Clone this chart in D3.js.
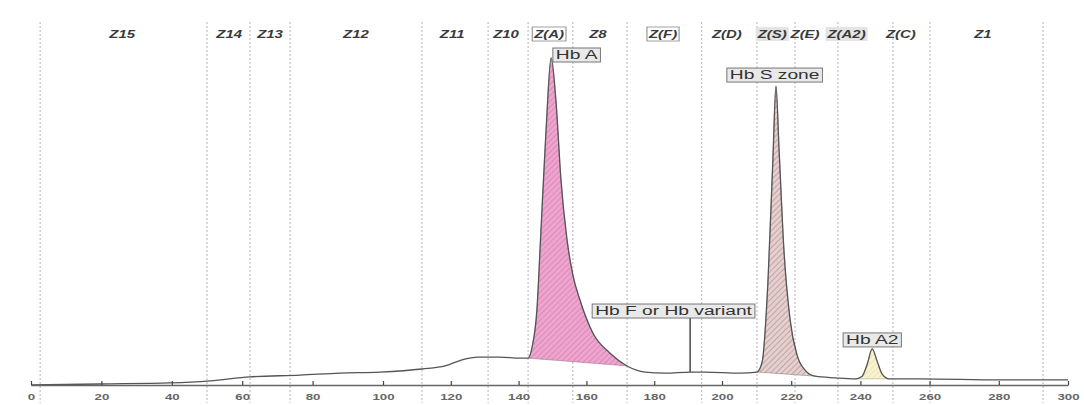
<!DOCTYPE html>
<html>
<head>
<meta charset="utf-8">
<script src="https://cdn.jsdelivr.net/npm/d3@7"></script>
<style>
   html, body { margin: 0; padding: 0; background: #fff; }
   #chart { width: 1084px; height: 405px; }
   text { font-family: "Liberation Sans", Arial, sans-serif; }
</style>
</head>
<body>
<div id="chart"></div>
<script>
// x axis ticks (migration time)
const tickValues = [0, 20, 40, 60, 80, 100, 120, 140, 160, 180, 200, 220, 240, 260, 280, 300];

// zone boundaries and zone names
const zoneBounds = [2.6, 50, 62.2, 73.6, 111.5, 131, 142.8, 156, 172, 194, 210.1, 221.1, 233.5, 249.4, 260.1, 292.8];
const zoneNames = ["Z15", "Z14", "Z13", "Z12", "Z11", "Z10", "Z(A)", "Z8", "Z(F)", "Z(D)", "Z(S)", "Z(E)", "Z(A2)", "Z(C)", "Z1"];
const zoneCenters = [25.9, 56.3, 67.9, 92.3, 120.4, 136.3, 149.0, 163.4, 182.6, 201.4, 214.5, 224.0, 236.0, 251.7, 275.4];
const zoneMarks = ["", "", "", "", "", "", "box", "", "box", "", "shade", "", "shade", "", ""];

// electropherogram trace
const traceX = [0, 19.6, 39.5, 50.9, 62.2, 76.4, 87.8, 99.1, 111.5, 118.3,
   123.3, 128.0, 134.5, 140.4, 142.8, 144.0, 145.4, 146.6, 148.1, 149.6,
   151.0, 152.5, 154.3, 156.0, 158.1, 161.9, 166.9, 172.0, 177.3, 183.2,
   190.6, 195.0, 205.2, 210.1, 211.6, 213.3, 214.7, 215.6, 216.5, 217.9,
   219.7, 221.7, 224.0, 226.9, 232.7, 238.5, 240.5, 242.0, 243.4, 244.9,
   246.3, 248.3, 257.2, 280.3, 300];
const traceY = [0, 0.3, 0.6, 1.2, 2.4, 2.9, 3.5, 3.8, 4.7, 5.6,
   7.4, 8.2, 8.2, 7.9, 7.9, 11.2, 22.1, 45.6, 75.0, 96.2,
   83.8, 60.3, 42.6, 32.4, 25.0, 15.3, 9.4, 5.6, 3.8, 3.5,
   3.8, 3.8, 3.5, 3.8, 6.8, 30.9, 66.2, 87.9, 69.1, 39.7,
   19.1, 8.8, 4.4, 2.6, 2.1, 1.8, 2.6, 6.2, 10.6, 6.8,
   3.2, 1.8, 1.8, 1.5, 1.5];

// integrated peaks
const peakIds = ["hbA", "hbS", "hbA2"];
const peakStart = [142.8, 210.1, 238.5];
const peakEnd = [172.0, 226.9, 248.3];

// peak labels (anchor = box left / bottom)
const labelTexts = ["Hb A", "Hb S zone", "Hb F or Hb variant", "Hb A2"];
const labelX = [150.1, 201.4, 161.7, 235.0];
const labelY = [95.0, 89.1, 19.7, 11.2];
const leaderX = [null, null, 190.6, null];
const leaderTo = [null, null, 3.8, null];

const width = 1084;
const height = 405;
const zoneStretch = 1.3;
const labelStretch = 1.6;

const peakStyle = {
   hbA: { base: "#eca6ce", hatch: "#d872aa", stroke: "#6e4a60" },
   hbS: { base: "#e6cfcf", hatch: "#a88888", stroke: "#5a4848" },
   hbA2: { base: "#f7f3cf", hatch: "#e4dca8", stroke: "#7a7a60" }
};

// Scales (scan is slightly uneven, so x is piecewise)
const x = d3.scaleLinear().domain([0, 100, 200, 300]).range([31, 383, 722, 1068]);
const y = d3.scaleLinear().domain([0, 100]).range([385, 45]);

const trace = traceX.map((d, i) => ({ x: d, y: traceY[i] }));

// Create svg
const svg = d3.select("#chart").append("svg")
   .attr("width", width)
   .attr("height", height);

// Hatch patterns
const defs = svg.append("defs");
peakIds.forEach(id => {
   const p = defs.append("pattern")
      .attr("id", "hatch-" + id)
      .attr("patternUnits", "userSpaceOnUse")
      .attr("width", 4)
      .attr("height", 4)
      .attr("patternTransform", "rotate(45)");
   p.append("rect").attr("width", 4).attr("height", 4).attr("fill", peakStyle[id].base);
   p.append("line").attr("x1", 0).attr("y1", 0).attr("x2", 0).attr("y2", 4)
      .attr("stroke", peakStyle[id].hatch).attr("stroke-width", 1.2);
});

// Zone boundary lines
svg.append("g").attr("class", "zones")
   .selectAll("line")
   .data(zoneBounds)
   .join("line")
   .attr("x1", d => x(d))
   .attr("x2", d => x(d))
   .attr("y1", 22)
   .attr("y2", 403)
   .attr("stroke", "#b4b4b4")
   .attr("stroke-width", 1)
   .attr("stroke-dasharray", "2,2");

// Zone labels
const zoneG = svg.append("g").attr("class", "zone-labels")
   .selectAll("g")
   .data(zoneNames)
   .join("g")
   .attr("transform", (d, i) => "translate(" + x(zoneCenters[i]) + ",38) scale(" + zoneStretch + ",1)");

zoneG.each(function (d, i) {
   const g = d3.select(this);
   const t = g.append("text")
      .attr("text-anchor", "middle")
      .attr("font-size", 11.5)
      .attr("font-weight", "bold")
      .attr("font-style", "italic")
      .attr("fill", "#3a3a3a")
      .text(d);
   if (zoneMarks[i]) {
      const w = t.node().getComputedTextLength();
      g.insert("rect", "text")
         .attr("x", -w / 2 - 1.5)
         .attr("y", -11)
         .attr("width", w + 3)
         .attr("height", 14)
         .attr("fill", zoneMarks[i] === "shade" ? "#e4e4e4" : "none")
         .attr("stroke", zoneMarks[i] === "box" ? "#8a8a8a" : "none")
         .attr("stroke-width", 0.8);
   }
});

// Peak areas
const chartG = svg.append("g").attr("class", "chart-group");
peakIds.forEach((id, i) => {
   const pts = trace.filter(d => d.x >= peakStart[i] && d.x <= peakEnd[i]);
   const first = pts[0];
   const last = pts[pts.length - 1];
   const base = d3.scaleLinear().domain([first.x, last.x]).range([first.y, last.y]);
   const area = d3.area()
      .x(d => x(d.x))
      .y0(d => y(base(d.x)))
      .y1(d => y(d.y))
      .curve(d3.curveMonotoneX);
   chartG.append("path")
      .datum(pts)
      .attr("d", area)
      .attr("fill", "url(#hatch-" + id + ")")
      .attr("stroke", peakStyle[id].stroke)
      .attr("stroke-width", 0.6)
      .attr("stroke-opacity", 0.6);
});

// Trace line
chartG.append("path")
   .datum(trace)
   .attr("d", d3.line().x(d => x(d.x)).y(d => y(d.y)).curve(d3.curveMonotoneX))
   .attr("fill", "none")
   .attr("stroke", "#555")
   .attr("stroke-width", 1.3);

// Bottom axis
const axisG = svg.append("g")
   .attr("class", "bottom-x-axis")
   .attr("transform", "translate(0," + y(0) + ")")
   .call(d3.axisBottom(x).tickValues(tickValues).tickSizeInner(-4).tickSizeOuter(0).tickPadding(8));
axisG.select(".domain").attr("stroke", "#666").attr("stroke-width", 1.4);
axisG.selectAll(".tick line").attr("stroke", "#444").attr("stroke-width", 1.2);
axisG.selectAll(".tick text")
   .attr("font-size", 9.5)
   .attr("font-weight", "bold")
   .attr("font-family", "Liberation Sans, Arial, sans-serif")
   .attr("fill", "#666")
   .attr("transform", "scale(1.4,1)");

// Peak labels
const labelG = svg.append("g").attr("class", "peak-labels");
labelTexts.forEach((d, i) => {
   if (leaderX[i] !== null) {
      labelG.append("line")
         .attr("x1", x(leaderX[i]))
         .attr("x2", x(leaderX[i]))
         .attr("y1", y(labelY[i]))
         .attr("y2", y(leaderTo[i]))
         .attr("stroke", "#555")
         .attr("stroke-width", 1.6);
   }
   const g = labelG.append("g")
      .attr("transform", "translate(" + x(labelX[i]) + "," + y(labelY[i]) + ")");
   const box = g.append("rect");
   const t = g.append("text")
      .attr("transform", "translate(3,-3) scale(" + labelStretch + ",1)")
      .attr("font-size", 12)
      .attr("fill", "#333")
      .text(d);
   const w = t.node().getComputedTextLength() * labelStretch + 6;
   box.attr("x", 0)
      .attr("y", -14)
      .attr("width", w)
      .attr("height", 14)
      .attr("fill", "#e9e9e9")
      .attr("stroke", "#777")
      .attr("stroke-width", 1);
});
</script>
</body>
</html>
